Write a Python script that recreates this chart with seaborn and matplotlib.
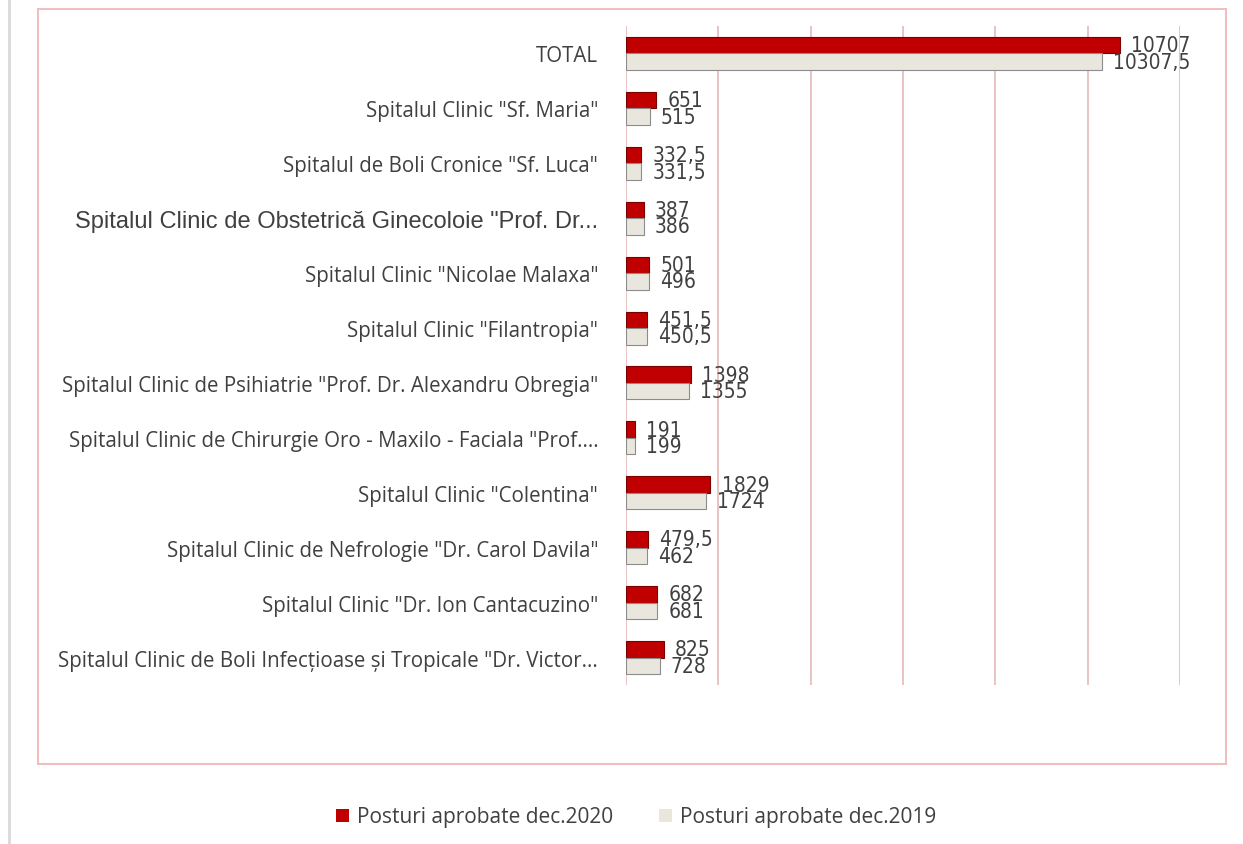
import pandas as pd
import matplotlib.pyplot as plt
import matplotlib.patches as mpatches
import seaborn as sns

# Date
spitale = [
    'TOTAL',
    'Spitalul Clinic "Sf. Maria"',
    'Spitalul de Boli Cronice "Sf. Luca"',
    'Spitalul Clinic de Obstetrică Ginecoloie "Prof. Dr...',
    'Spitalul Clinic "Nicolae Malaxa"',
    'Spitalul Clinic "Filantropia"',
    'Spitalul Clinic de Psihiatrie "Prof. Dr. Alexandru Obregia"',
    'Spitalul Clinic de Chirurgie Oro - Maxilo - Faciala "Prof....',
    'Spitalul Clinic "Colentina"',
    'Spitalul Clinic de Nefrologie "Dr. Carol Davila"',
    'Spitalul Clinic "Dr. Ion Cantacuzino"',
    'Spitalul Clinic de Boli Infecțioase și Tropicale "Dr. Victor...',
]
posturi_2020 = [10707, 651, 332.5, 387, 501, 451.5, 1398, 191, 1829, 479.5, 682, 825]
posturi_2019 = [10307.5, 515, 331.5, 386, 496, 450.5, 1355, 199, 1724, 462, 681, 728]
serii = ['Posturi aprobate dec.2020', 'Posturi aprobate dec.2019']

df = pd.DataFrame({
    'Spital': spitale * 2,
    'Posturi': posturi_2020 + posturi_2019,
    'Serie': [serii[0]] * len(spitale) + [serii[1]] * len(spitale),
})

culori = {serii[0]: '#C00000', serii[1]: '#E9E7DD'}
margini = {serii[0]: '#7A0000', serii[1]: '#8C8C8C'}
text_color = '#404040'

sns.set_style('white')
plt.rcParams['font.family'] = ['Open Sans', 'DejaVu Sans']

fig = plt.figure(figsize=(12.43, 8.45), dpi=100)
ax = fig.add_axes([626 / 1243, 1 - 686 / 845, 554 / 1243, 659 / 845])

sns.barplot(data=df, y='Spital', x='Posturi', hue='Serie', hue_order=serii,
            order=spitale, palette=culori, width=0.6, orient='h',
            saturation=1, legend=False, ax=ax)

def fmt(v):
    return f'{v:g}'.replace('.', ',')

for cont, serie in zip(ax.containers, serii):
    for bar in cont:
        bar.set_edgecolor(margini[serie])
        bar.set_linewidth(0.8)
    ax.bar_label(cont, labels=[fmt(v) for v in cont.datavalues], padding=8,
                 fontsize=15, color=text_color, fontstretch='condensed',
                 family=['Liberation Sans Narrow', 'DejaVu Sans'])

ax.set_xlim(0, 12000)
ax.set_ylim(len(spitale) - 0.5, -0.5)
ax.set_xticks(range(0, 12001, 2000))
ax.set_xticklabels([])
ax.xaxis.grid(True, color='#E6B8B7', linewidth=1.2)
ax.set_axisbelow(True)
ax.set_xlabel('')
ax.set_ylabel('')
ax.tick_params(axis='y', length=0, pad=20, labelsize=14.8, labelcolor=text_color)
ax.tick_params(axis='x', length=0)
for lbl in ax.get_yticklabels():
    if 'Obstetrică' in lbl.get_text():
        lbl.set_family(['Liberation Sans', 'DejaVu Sans'])
        lbl.set_fontsize(17)
sns.despine(ax=ax, left=True, bottom=True, top=True, right=True)

# chenar exterior si linia gri din stanga
fig.patches.append(mpatches.Rectangle((38 / 1243, 1 - 765 / 845), 1188 / 1243, 755 / 845,
                                      transform=fig.transFigure, fill=False,
                                      edgecolor='#EFBFBF', linewidth=1.5))
fig.lines.append(plt.Line2D([9 / 1243, 9 / 1243], [0, 1], transform=fig.transFigure,
                            color='#D9D9D9', linewidth=2))

handles = [mpatches.Patch(facecolor=culori[s], edgecolor='none', label=s) for s in serii]
fig.legend(handles=handles, loc='center', bbox_to_anchor=(0.512, 0.032), ncol=2,
           frameon=False, fontsize=15, handlelength=0.6, handleheight=0.6,
           handletextpad=0.4, columnspacing=2.2, labelcolor=text_color)

fig.savefig('out.png', dpi=100)
